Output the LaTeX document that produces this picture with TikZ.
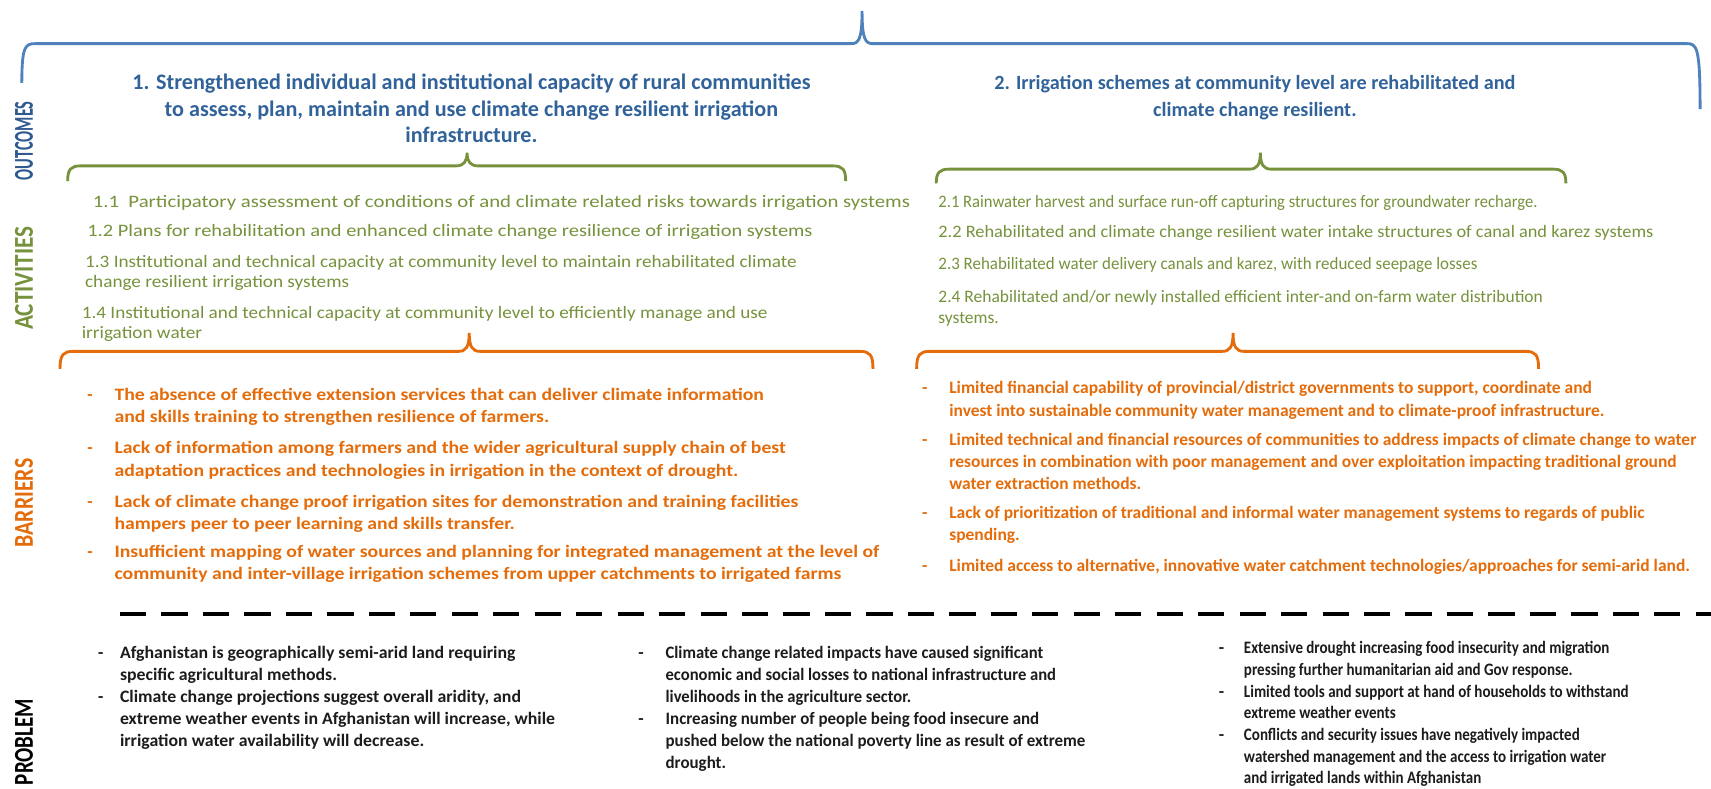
\documentclass[tikz,border=0pt]{standalone}
\usepackage{fontspec}
\setmainfont{Carlito}
\definecolor{bracebl}{HTML}{4F81BD}
\definecolor{outbl}{HTML}{31639A}
\definecolor{labbl}{HTML}{2F5A8F}
\definecolor{actgr}{HTML}{76923C}
\definecolor{braceor}{HTML}{E46C0A}
\definecolor{baror}{HTML}{E46C0A}
\definecolor{probtx}{HTML}{1C1C1C}
% horizontal brace: style, left x, tip x, right x, y, tip height, left drop, right drop
\newcommand{\drawbrace}[8]{%
  \draw[#1] ({#2},{#5+#7}) .. controls ({#2},{#5+3}) and ({#2+3},{#5}) .. ({#2+12},{#5})
    -- ({#3-10},{#5}) .. controls ({#3-3},{#5}) and ({#3},{#5-4}) .. ({#3},{#5-#6})
    .. controls ({#3},{#5-4}) and ({#3+3},{#5}) .. ({#3+10},{#5})
    -- ({#4-12},{#5}) .. controls ({#4-3},{#5}) and ({#4},{#5+3}) .. ({#4},{#5+#8});}
\newcommand{\fs}[2]{\fontsize{#1}{#2}\selectfont}
% widen or narrow one line of text
\newcommand{\hs}[2]{\scalebox{#1}[1]{#2}}
\begin{document}
\begin{tikzpicture}[x=1pt,y=-1pt,
  every node/.style={inner sep=0pt,outer sep=0pt},
  sidelabel/.style={rotate=90,font=\fs{25}{25}\bfseries},
  outcome/.style={anchor=base,align=center,text=outbl,font=\fs{18.5}{24.5}\bfseries},
  activity/.style={anchor=base west,align=left,text=actgr,font=\fs{16}{18.5}},
  barrier/.style={anchor=base west,align=left,text=baror,font=\fs{16}{20.5}\bfseries},
  bardash/.style={anchor=base west,text=baror,font=\fs{16}{20.5}\bfseries},
  problem/.style={anchor=base west,align=left,text=probtx,font=\fs{16}{#1}\bfseries},
  problem/.default=20.3,
  probdash/.style={anchor=base west,text=probtx,font=\fs{16}{20.3}\bfseries},
  bluebrace/.style={draw=bracebl,line width=2.6pt},
  greenbrace/.style={draw=actgr,line width=2.6pt},
  orangebrace/.style={draw=braceor,line width=2.6pt},
  divider/.style={draw=black,line width=3.6pt,dash pattern=on 24pt off 14pt}]
\useasboundingbox[fill=white] (0,0) rectangle (1568,723);

% side labels
\node[sidelabel,text=labbl] (lout) at (22,129) {\scalebox{0.6}[1]{OUTCOMES}};
\node[sidelabel,text=actgr] (lact) at (22,255) {\scalebox{0.85}[1]{ACTIVITIES}};
\node[sidelabel,text=baror] (lbar) at (22,461) {\scalebox{0.8}[1]{BARRIERS}};
\node[sidelabel,text=black] (lprob) at (22,680) {\scalebox{0.77}[1]{PROBLEM}};

% braces
\drawbrace{bluebrace}{20}{790}{1558}{40}{30}{36}{60}
\drawbrace{greenbrace}{62}{428}{775}{152}{12}{14}{14}
\drawbrace{greenbrace}{858}{1155}{1435}{155}{15}{13}{13}
\drawbrace{orangebrace}{55}{430}{800}{322}{17}{16}{16}
\drawbrace{orangebrace}{840}{1130}{1410}{322}{17}{16}{16}

% outcomes (anchored at the baseline of the last line)
\node[outcome,font=\fs{20.3}{24.5}\bfseries] (o1) at (432,131) {1. Strengthened individual and institutional capacity of rural communities\\
  to assess, plan, maintain and use climate change resilient irrigation\\ infrastructure.};
\node[outcome] (o2) at (1150,106.5) {2. Irrigation schemes at community level are rehabilitated and\\ climate change resilient.};

% activities
\node[activity] (a11) at (85,190) {\hs{1.19}{1.1 \ Participatory assessment of conditions of and climate related risks towards irrigation systems}};
\node[activity] (a12) at (80,217) {\hs{1.17}{1.2 Plans for rehabilitation and enhanced climate change resilience of irrigation systems}};
\node[activity] (a13) at (78,263.5) {\hs{1.1}{1.3 Institutional and technical capacity at community level to maintain rehabilitated climate}\\ \hs{1.1}{change resilient irrigation systems}};
\node[activity] (a14) at (75,310.5) {\hs{1.1}{1.4 Institutional and technical capacity at community level to efficiently manage and use}\\ \hs{1.1}{irrigation water}};
\node[activity] (a21) at (860,190) {\hs{0.95}{2.1 Rainwater harvest and surface run-off capturing structures for groundwater recharge.}};
\node[activity] (a22) at (860,218) {\hs{1.05}{2.2 Rehabilitated and climate change resilient water intake structures of canal and karez systems}};
\node[activity] (a23) at (860,247) {\hs{0.97}{2.3 Rehabilitated water delivery canals and karez, with reduced seepage losses}};
\node[activity] (a24) at (860,296) {2.4 Rehabilitated and/or newly installed efficient inter-and on-farm water distribution\\ systems.};

% barriers, left column
\node[bardash] (db1) at (80,367) {-};
\node[barrier] (b1) at (105,387.5) {\hs{1.13}{The absence of effective extension services that can deliver climate information}\\ \hs{1.13}{and skills training to strengthen resilience of farmers.}};
\node[bardash] (db2) at (80,416) {-};
\node[barrier] (b2) at (105,436.5) {\hs{1.13}{Lack of information among farmers and the wider agricultural supply chain of best}\\ \hs{1.13}{adaptation practices and technologies in irrigation in the context of drought.}};
\node[bardash] (db3) at (80,465) {-};
\node[barrier] (b3) at (105,485.5) {\hs{1.13}{Lack of climate change proof irrigation sites for demonstration and training facilities}\\ \hs{1.13}{hampers peer to peer learning and skills transfer.}};
\node[bardash] (db4) at (80,511) {-};
\node[barrier] (b4) at (105,531.5) {\hs{1.13}{Insufficient mapping of water sources and planning for integrated management at the level of}\\ \hs{1.13}{community and inter-village irrigation schemes from upper catchments to irrigated farms}};

% barriers, right column
\node[bardash] (db5) at (845,361) {-};
\node[barrier] (b5) at (870,381.5) {Limited financial capability of provincial/district governments to support, coordinate and\\ invest into sustainable community water management and to climate-proof infrastructure.};
\node[bardash] (db6) at (845,408) {-};
\node[barrier] (b6) at (870,449) {Limited technical and financial resources of communities to address impacts of climate change to water\\ resources in combination with poor management and over exploitation impacting traditional ground\\ water extraction methods.};
\node[bardash] (db7) at (845,475) {-};
\node[barrier] (b7) at (870,495.5) {Lack of prioritization of traditional and informal water management systems to regards of public\\ spending.};
\node[bardash] (db8) at (845,524) {-};
\node[barrier] (b8) at (870,524) {Limited access to alternative, innovative water catchment technologies/approaches for semi-arid land.};

% divider between barriers and problem
\coordinate (dl) at (110,563);
\coordinate (dr) at (1568,563);
\draw[divider] (dl) -- (dr);

% problem, first column
\node[probdash] (dp1) at (90,603) {-};
\node[problem] (p1) at (110,623.3) {\hs{1.02}{Afghanistan is geographically semi-arid land requiring}\\ \hs{1.02}{specific agricultural methods.}};
\node[probdash] (dp2) at (90,643.6) {-};
\node[problem] (p2) at (110,684.2) {\hs{1.02}{Climate change projections suggest overall aridity, and}\\ \hs{1.02}{extreme weather events in Afghanistan will increase, while}\\ \hs{1.02}{irrigation water availability will decrease.}};
% problem, second column
\node[probdash] (dp3) at (585,603) {-};
\node[problem] (p3) at (610,643.6) {\hs{0.95}{Climate change related impacts have caused significant}\\ \hs{0.95}{economic and social losses to national infrastructure and}\\ \hs{0.95}{livelihoods in the agriculture sector.}};
\node[probdash] (dp4) at (585,663.9) {-};
\node[problem] (p4) at (610,704.5) {\hs{0.97}{Increasing number of people being food insecure and}\\ \hs{0.97}{pushed below the national poverty line as result of extreme}\\ \hs{0.97}{drought.}};
% problem, third column
\node[probdash] (dp5) at (1117,599) {-};
\node[problem=19.9] (p5) at (1140,618.9) {\hs{0.86}{Extensive drought increasing food insecurity and migration}\\ \hs{0.86}{pressing further humanitarian aid and Gov response.}};
\node[probdash] (dp6) at (1117,638.8) {-};
\node[problem=19.9] (p6) at (1140,658.7) {\hs{0.86}{Limited tools and support at hand of households to withstand}\\ \hs{0.86}{extreme weather events}};
\node[probdash] (dp7) at (1117,678.6) {-};
\node[problem=19.9] (p7) at (1140,718.4) {\hs{0.86}{Conflicts and security issues have negatively impacted}\\ \hs{0.86}{watershed management and the access to irrigation water}\\ \hs{0.86}{and irrigated lands within Afghanistan}};
\end{tikzpicture}
\end{document}
